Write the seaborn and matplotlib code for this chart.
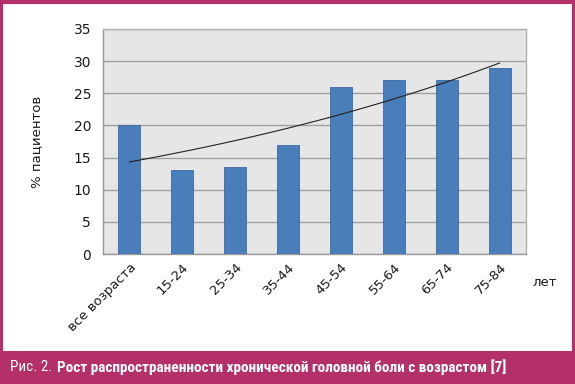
import numpy as np
import pandas as pd
import seaborn as sns
import matplotlib.pyplot as plt
from matplotlib.patches import Rectangle

# data
age_groups = ['все возраста', '15-24', '25-34', '35-44', '45-54', '55-64', '65-74', '75-84']
patients_pct = [20, 13, 13.5, 17, 26, 27, 27, 29]

df = pd.DataFrame({'age': age_groups, 'pct': patients_pct})

sns.set_style('white')
plt.rcParams['font.family'] = ['DejaVu Sans']

fig = plt.figure(figsize=(5.75, 3.84), dpi=100)
ax = fig.add_axes([0.179, 0.3385, 0.736, 0.586])
ax.set_facecolor('#e6e6e6')

sns.barplot(data=df, x='age', y='pct', color='#4a7ebb', width=0.42,
            edgecolor='#3a6aa3', linewidth=0.6, saturation=1, ax=ax, zorder=3)

# exponential trend line (like Excel), fitted to the bar values
xs = np.arange(len(patients_pct))
b, a = np.polyfit(xs, np.log(patients_pct), 1)
xx = np.linspace(0, len(patients_pct) - 1, 100)
ax.plot(xx, np.exp(a + b * xx), color='#222222', linewidth=0.8, zorder=4)

ax.set_ylim(0, 35)
ax.set_xlim(-0.5, len(age_groups) - 0.5)
ax.set_yticks(range(0, 36, 5))
ax.yaxis.grid(True, color='#a0a0a0', linewidth=1, zorder=0)
ax.xaxis.grid(False)
ax.set_axisbelow(True)

for s in ['top', 'right']:
    ax.spines[s].set_color('#b0b0b0')
    ax.spines[s].set_linewidth(1)
for s in ['left', 'bottom']:
    ax.spines[s].set_color('#999999')
    ax.spines[s].set_linewidth(1)

# ticks between categories on x axis
ax.set_xticks(np.arange(len(age_groups) + 1) - 0.5, minor=True)
ax.tick_params(axis='x', which='minor', length=5, color='#999999', width=1, direction='out')
ax.tick_params(axis='x', which='major', length=0, pad=5)
ax.tick_params(axis='y', length=5, color='#999999', width=1, direction='out', labelsize=10, labelcolor='#1a1a1a')
ax.set_xticks(xs)
ax.set_xticklabels(age_groups, rotation=45, ha='right', rotation_mode='anchor',
                   fontsize=9.5, color='#1a1a1a')

ax.set_xlabel('')
ax.set_ylabel('% пациентов', fontsize=9.5, color='#1a1a1a', labelpad=22)
ax.text(1.015, -0.125, 'лет', transform=ax.transAxes, fontsize=9.5, color='#1a1a1a',
        ha='left', va='center')

# magenta frame and caption band
fig.patches.append(Rectangle((0.002, 0.002), 0.996, 0.994, transform=fig.transFigure,
                             fill=False, edgecolor='#b33068', linewidth=3))
fig.patches.append(Rectangle((0, 0), 1, 0.086, transform=fig.transFigure,
                             facecolor='#b33068', edgecolor='none'))
cap_fam = ['Roboto Condensed', 'Liberation Sans Narrow', 'DejaVu Sans']
fig.text(0.017, 0.043, 'Рис. 2.', color='white', fontsize=11, va='center',
         family=cap_fam, fontstretch='condensed')
fig.text(0.099, 0.043, 'Рост распространенности хронической головной боли с возрастом [7]',
         color='white', fontsize=11, va='center', fontweight='bold',
         family=cap_fam, fontstretch='condensed')

plt.savefig('out.png', dpi=100)
